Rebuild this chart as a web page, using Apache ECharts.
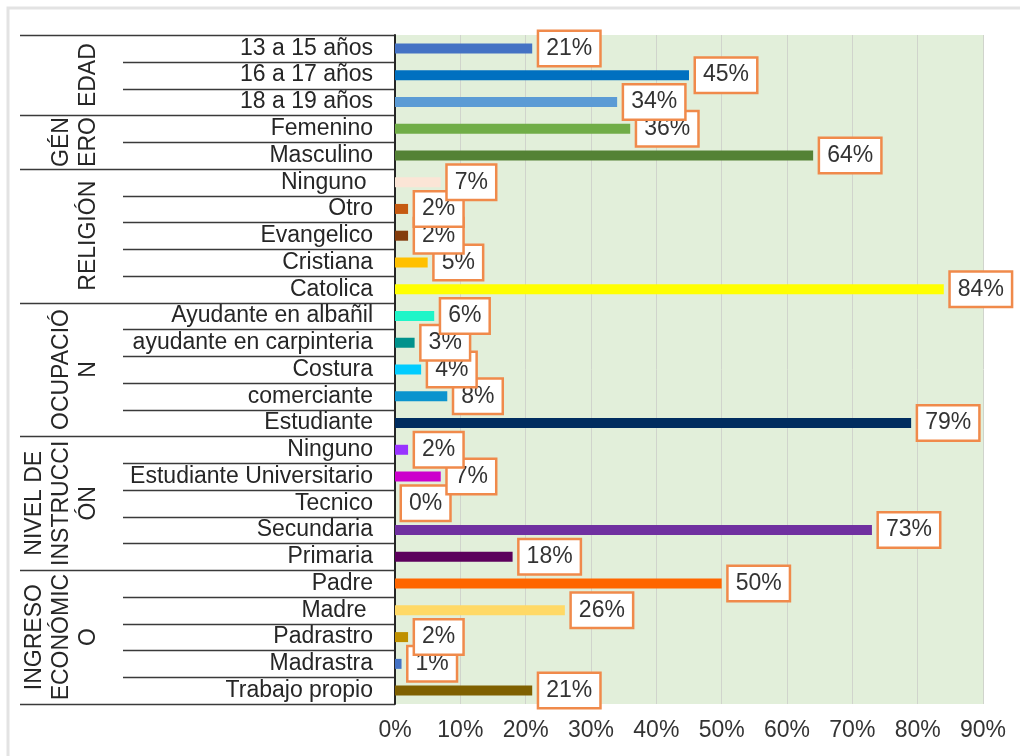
<!DOCTYPE html>
<html>
<head>
<meta charset="utf-8">
<script src="https://cdn.jsdelivr.net/npm/echarts@6/dist/echarts.min.js"></script>
<style>
  html, body { margin: 0; background: #fff; }
  #chart { width: 1020px; height: 756px; }
</style>
</head>
<body>
<div id="chart"></div>
<script>
// rows listed top to bottom, as in the picture
const categories = [
  "13 a 15 años", "16 a 17 años", "18 a 19 años",
  "Femenino", "Masculino",
  "Ninguno ", "Otro", "Evangelico", "Cristiana", "Catolica",
  "Ayudante en albañil", "ayudante en carpinteria", "Costura", "comerciante", "Estudiante",
  "Ninguno", "Estudiante Universitario", "Tecnico", "Secundaria", "Primaria",
  "Padre", "Madre ", "Padrastro", "Madrastra", "Trabajo propio"
];
const values = [21, 45, 34, 36, 64, 7, 2, 2, 5, 84, 6, 3, 4, 8, 79, 2, 7, 0, 73, 18, 50, 26, 2, 1, 21];
const barColors = [
  "#4472C4", "#0070C0", "#5B9BD5",
  "#70AD47", "#548235",
  "#FBE5D6", "#C55A11", "#843C0C", "#FFC000", "#FFFF00",
  "#1EF5C8", "#00928C", "#00CCFF", "#0B94CE", "#002C5F",
  "#9933FF", "#CC00CC", "#A5A5A5", "#7030A0", "#5C005C",
  "#FF6600", "#FFD966", "#BF9000", "#4472C4", "#7F6000"
];
const groupNames = [
  ["EDAD"], ["GÉN", "ERO"], ["RELIGIÓN"], ["OCUPACIÓ", "N"],
  ["NIVEL DE", "INSTRUCCI", "ÓN"], ["INGRESO", "ECONÓMIC", "O"]
];
const groupSizes = [3, 2, 5, 5, 5, 5];

const font = "Liberation Sans, Arial, sans-serif";
const textColor = "#262626";
const n = categories.length;

// category axis runs bottom to top, so feed it reversed
const axisCats = categories.slice().reverse();
const axisData = values.map((v, i) => ({
  value: v,
  itemStyle: { color: barColors[i] }
})).reverse();

const chart = echarts.init(document.getElementById("chart"));

chart.setOption({
  animation: false,
  grid: {
    left: 395, right: 37, top: 35, bottom: 52,
    show: true, backgroundColor: "#E2EFDA", borderWidth: 0
  },
  xAxis: {
    type: "value", min: 0, max: 90, interval: 10,
    axisLine: { show: false },
    axisTick: { show: false },
    axisLabel: { formatter: "{value}%", fontSize: 23, fontFamily: font, color: "#333", margin: 15 },
    splitLine: { show: true, lineStyle: { color: "#D0D4CC", width: 1 } }
  },
  yAxis: {
    type: "category",
    data: axisCats,
    axisLine: { show: true, lineStyle: { color: textColor, width: 2 } },
    axisTick: { show: false },
    axisLabel: { interval: 0, fontSize: 23, fontFamily: font, color: textColor, margin: 22 }
  },
  series: [{
    type: "bar",
    data: axisData,
    barWidth: 10,
    label: {
      show: true,
      position: "right",
      distance: 7,
      formatter: "{c}%",
      fontSize: 23,
      fontFamily: font,
      color: "#333",
      lineHeight: 25,
      backgroundColor: "#fff",
      borderColor: "#F08A4B",
      borderWidth: 2.5,
      padding: [5, 7, 3, 7]
    }
  }]
});

// left-hand table: row lines and rotated group titles
const rowY = (i) => chart.convertToPixel({ yAxisIndex: 0 }, n - 1 - i);
const half = Math.abs(rowY(1) - rowY(0)) / 2;
const axisX = chart.convertToPixel({ xAxisIndex: 0 }, 0);

const groupStarts = [];
let acc = 0;
groupSizes.forEach(s => { groupStarts.push(acc); acc += s; });
const boundarySet = new Set(groupStarts.concat([n]));

const graphics = [{
  type: "rect",
  shape: { x: 8, y: 8, width: 1040, height: 780 },
  style: { fill: "none", stroke: "#E3E3E3", lineWidth: 3 },
  silent: true
}];

for (let k = 0; k <= n; k++) {
  const y = Math.round(rowY(0) - half + k * 2 * half) + 0.5;
  graphics.push({
    type: "line",
    shape: { x1: boundarySet.has(k) ? 20 : 123, y1: y, x2: axisX, y2: y },
    style: { stroke: "#3A3A3A", lineWidth: 1.6 },
    silent: true
  });
}

groupNames.forEach((lines, g) => {
  const start = groupStarts[g];
  const end = start + groupSizes[g] - 1;
  const cy = (rowY(start) + rowY(end)) / 2;
  lines.forEach((txt, j) => {
    graphics.push({
      type: "text",
      x: 89 - 27 * (lines.length - 1 - j),
      y: cy,
      rotation: Math.PI / 2,
      style: {
        text: txt, fontSize: 23, fontFamily: font, fill: textColor,
        align: "center", verticalAlign: "middle"
      },
      silent: true
    });
  });
});

chart.setOption({ graphic: graphics });
</script>
</body>
</html>
